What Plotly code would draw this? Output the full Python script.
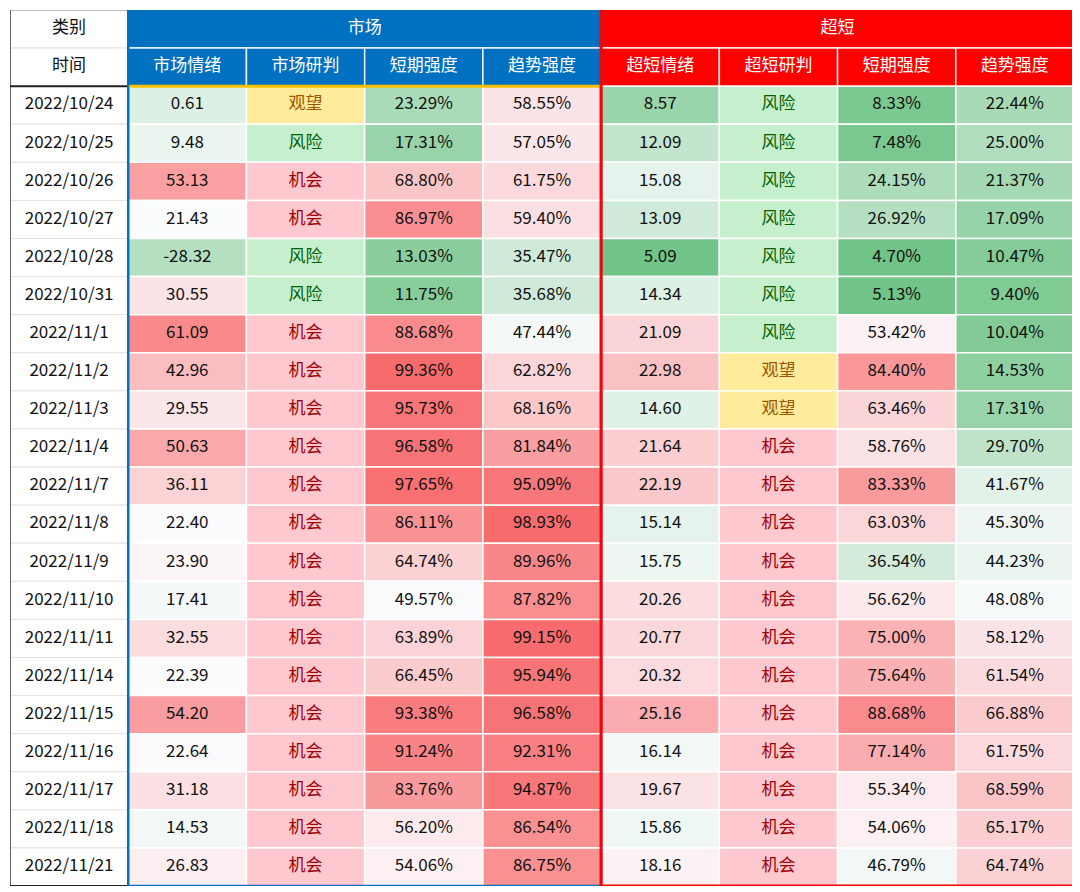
import plotly.graph_objects as go

dates = ["2022/10/24", "2022/10/25", "2022/10/26", "2022/10/27", "2022/10/28", "2022/10/31",
         "2022/11/1", "2022/11/2", "2022/11/3", "2022/11/4", "2022/11/7", "2022/11/8",
         "2022/11/9", "2022/11/10", "2022/11/11", "2022/11/14", "2022/11/15", "2022/11/16",
         "2022/11/17", "2022/11/18", "2022/11/21"]
mkt_sent = [0.61, 9.48, 53.13, 21.43, -28.32, 30.55, 61.09, 42.96, 29.55, 50.63, 36.11,
            22.40, 23.90, 17.41, 32.55, 22.39, 54.20, 22.64, 31.18, 14.53, 26.83]
mkt_judge = ["观望", "风险", "机会", "机会", "风险", "风险"] + ["机会"] * 15
mkt_short = [23.29, 17.31, 68.80, 86.97, 13.03, 11.75, 88.68, 99.36, 95.73, 96.58, 97.65,
             86.11, 64.74, 49.57, 63.89, 66.45, 93.38, 91.24, 83.76, 56.20, 54.06]
mkt_trend = [58.55, 57.05, 61.75, 59.40, 35.47, 35.68, 47.44, 62.82, 68.16, 81.84, 95.09,
             98.93, 89.96, 87.82, 99.15, 95.94, 96.58, 92.31, 94.87, 86.54, 86.75]
ss_sent = [8.57, 12.09, 15.08, 13.09, 5.09, 14.34, 21.09, 22.98, 14.60, 21.64, 22.19,
           15.14, 15.75, 20.26, 20.77, 20.32, 25.16, 16.14, 19.67, 15.86, 18.16]
ss_judge = ["风险"] * 7 + ["观望", "观望"] + ["机会"] * 12
ss_short = [8.33, 7.48, 24.15, 26.92, 4.70, 5.13, 53.42, 84.40, 63.46, 58.76, 83.33,
            63.03, 36.54, 56.62, 75.00, 75.64, 88.68, 77.14, 55.34, 54.06, 46.79]
ss_trend = [22.44, 25.00, 21.37, 17.09, 10.47, 9.40, 10.04, 14.53, 17.31, 29.70, 41.67,
            45.30, 44.23, 48.08, 58.12, 61.54, 66.88, 61.75, 68.59, 65.17, 64.74]

corner_labels = ["类别", "时间"]
group_labels = ["市场", "超短"]
sub_labels = ["市场情绪", "市场研判", "短期强度", "趋势强度",
              "超短情绪", "超短研判", "短期强度", "趋势强度"]

# ---- styles ----
GREEN = (99, 190, 123)
WHITE = (252, 252, 255)
RED = (248, 105, 107)
BLUE = "#0070C0"
REDH = "#FF0000"
FONT = "Noto Sans CJK SC"
FS = 17
judge_style = {"机会": ("#FFC7CE", "#9C0006"),
               "风险": ("#C6EFCE", "#006100"),
               "观望": ("#FFEB9C", "#9C5700")}


def scale_color(v, lo, mid, hi):
    if v <= mid:
        t, c = min(1.0, (mid - v) / (mid - lo)), GREEN
    else:
        t, c = min(1.0, (v - mid) / (hi - mid)), RED
    rgb = [round(WHITE[i] + (c[i] - WHITE[i]) * t) for i in range(3)]
    return "rgb(%d,%d,%d)" % tuple(rgb)


columns = [
    (mkt_sent, "num", (-85, 22, 72)),
    (mkt_judge, "judge", None),
    (mkt_short, "pct", (0, 50, 100)),
    (mkt_trend, "pct", (0, 50, 100)),
    (ss_sent, "num", (3.8, 17, 32)),
    (ss_judge, "judge", None),
    (ss_short, "pct", (0, 50, 100)),
    (ss_trend, "pct", (0, 50, 100)),
]

n = len(dates)
HDR = 2
shapes = []
fig = go.Figure()

# date column cells
for i in range(HDR + n):
    shapes.append(dict(type="rect", xref="x", yref="y", x0=0, x1=1, y0=i, y1=i + 1,
                       fillcolor="white", line=dict(color="#E3E3E3", width=1), layer="below"))
# header fills
for g, color in enumerate([BLUE, REDH]):
    shapes.append(dict(type="rect", xref="x", yref="y", x0=1 + 4 * g, x1=5 + 4 * g, y0=0, y1=1,
                       fillcolor=color, line=dict(color="rgba(255,255,255,0.85)", width=1.5),
                       layer="below"))
    for k in range(4):
        c = 1 + 4 * g + k
        shapes.append(dict(type="rect", xref="x", yref="y", x0=c, x1=c + 1, y0=1, y1=2,
                           fillcolor=color, line=dict(color="rgba(255,255,255,0.9)", width=1.5),
                           layer="below"))

# data cells
for ci, (vals, kind, sc) in enumerate(columns):
    c = ci + 1
    texts, tcolors = [], []
    for i, v in enumerate(vals):
        if kind == "judge":
            fill, tc = judge_style[v]
            txt = v
        else:
            fill = scale_color(v, *sc)
            tc = "#111111"
            txt = ("%.2f%%" % v) if kind == "pct" else ("%.2f" % v)
        shapes.append(dict(type="rect", xref="x", yref="y", x0=c, x1=c + 1,
                           y0=HDR + i, y1=HDR + i + 1, fillcolor=fill,
                           line=dict(color="white", width=1.5), layer="below"))
        texts.append(txt)
        tcolors.append(tc)
    fig.add_trace(go.Scatter(x=[c + 0.5] * n, y=[HDR + i + 0.5 for i in range(n)],
                             mode="text", text=texts,
                             textfont=dict(family=FONT, size=FS, color=tcolors),
                             hoverinfo="skip", showlegend=False))

# date texts
fig.add_trace(go.Scatter(x=[0.5] * n, y=[HDR + i + 0.5 for i in range(n)], mode="text",
                         text=dates, textfont=dict(family=FONT, size=FS, color="#111111"),
                         hoverinfo="skip", showlegend=False))
# corner labels
fig.add_trace(go.Scatter(x=[0.5, 0.5], y=[0.5, 1.5], mode="text", text=corner_labels,
                         textfont=dict(family=FONT, size=FS, color="#111111"),
                         hoverinfo="skip", showlegend=False))
# group labels
fig.add_trace(go.Scatter(x=[3, 7], y=[0.5, 0.5], mode="text", text=group_labels,
                         textfont=dict(family=FONT, size=FS, color="white"),
                         hoverinfo="skip", showlegend=False))
# sub labels
fig.add_trace(go.Scatter(x=[k + 1.5 for k in range(8)], y=[1.5] * 8, mode="text",
                         text=sub_labels, textfont=dict(family=FONT, size=FS, color="white"),
                         hoverinfo="skip", showlegend=False))

# borders
tot = HDR + n
shapes += [
    dict(type="line", xref="x", yref="y", x0=0, x1=0, y0=0, y1=tot,
         line=dict(color="#666666", width=2)),
    dict(type="line", xref="x", yref="y", x0=0, x1=1, y0=0, y1=0,
         line=dict(color="#888888", width=1)),
    dict(type="line", xref="x", yref="y", x0=0, x1=1, y0=HDR, y1=HDR,
         line=dict(color="#222222", width=2)),
    dict(type="line", xref="x", yref="y", x0=0, x1=1, y0=tot, y1=tot,
         line=dict(color="#222222", width=2)),
    dict(type="rect", xref="x", yref="y", x0=1, x1=5, y0=0, y1=tot,
         line=dict(color=BLUE, width=2.5), fillcolor="rgba(0,0,0,0)"),
    dict(type="line", xref="x", yref="y", x0=1.01, x1=5, y0=HDR, y1=HDR,
         line=dict(color="#FFC000", width=3)),
    dict(type="rect", xref="x", yref="y", x0=5, x1=9, y0=0, y1=tot,
         line=dict(color=REDH, width=3), fillcolor="rgba(0,0,0,0)"),
]

fig.update_layout(
    width=1068, height=880,
    margin=dict(l=2, r=2, t=2, b=2),
    paper_bgcolor="white", plot_bgcolor="white",
    shapes=shapes, showlegend=False, hovermode=False,
    xaxis=dict(range=[0, 9], visible=False, fixedrange=True),
    yaxis=dict(range=[tot, 0], visible=False, fixedrange=True),
)

fig.write_html("out.html", config={"displayModeBar": False})
